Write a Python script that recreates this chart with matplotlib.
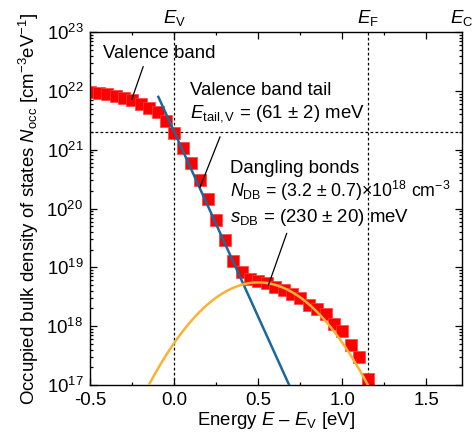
import numpy as np
import matplotlib
matplotlib.use("Agg")
import matplotlib.pyplot as plt
from matplotlib.ticker import MultipleLocator, LogLocator, NullFormatter, FormatStrFormatter
import matplotlib.transforms as mtransforms

plt.rcParams["font.family"] = ["Liberation Sans", "DejaVu Sans"]
plt.rcParams["mathtext.fontset"] = "custom"
plt.rcParams["mathtext.rm"] = "Liberation Sans"
plt.rcParams["mathtext.it"] = "Liberation Sans:italic"
plt.rcParams["mathtext.bf"] = "Liberation Sans:bold"
plt.rcParams["font.size"] = 13.4

# Measured occupied density of states (energy relative to valence band edge)
energy = [-0.50, -0.45, -0.40, -0.35, -0.30, -0.25, -0.20, -0.15, -0.10, -0.05,
          0.00, 0.05, 0.10, 0.15, 0.20, 0.25, 0.30, 0.35, 0.40, 0.45,
          0.50, 0.55, 0.60, 0.65, 0.70, 0.75, 0.80, 0.85, 0.90, 0.95,
          1.00, 1.05, 1.10, 1.15]
n_occ = [9.5e21, 9.1e21, 8.7e21, 8.1e21, 7.6e21, 6.9e21, 6.0e21, 5.2e21, 4.3e21, 3.1e21,
         1.95e21, 1.07e21, 5.9e20, 3.1e20, 1.45e20, 6.5e19, 2.9e19, 1.3e19, 8.3e18, 6.3e18,
         5.9e18, 5.5e18, 4.7e18, 4.2e18, 3.5e18, 3.0e18, 2.3e18, 1.95e18, 1.6e18, 1.1e18,
         8.3e17, 4.7e17, 3.0e17, 1.25e17]

# Exponential band-tail line (as plotted) and Gaussian dangling-bond distribution
n_tail0 = 2e21        # cm^-3 eV^-1 at E_V
e_tail_line = 0.069   # eV, slope of the drawn tail line
n_db = 3.2e18         # cm^-3
s_db = 0.230          # eV
e_db = 0.50           # eV

# Characteristic energies
e_v = 0.0
e_f = 1.15
e_c = 1.71

fig = plt.figure(figsize=(4.74, 4.40), dpi=100)
ax = fig.add_axes([0.1905, 0.125, 0.7835, 0.802])

ax.set_xlim(-0.5, e_c)
ax.set_ylim(1e17, 1e23)
ax.set_yscale("log")

dash = dict(color="black", lw=0.9, ls=(0, (2.2, 1.8)), zorder=1)
ax.axvline(e_v, **dash)
ax.axvline(e_f, **dash)
ax.axhline(n_tail0, **dash)

ax.plot(energy, n_occ, ls="none", marker="s", ms=8.4, color="#ff0000",
        mec="#ff4040", mew=0.5, zorder=2)

e_line = np.linspace(-0.095, 0.8, 200)
ax.plot(e_line, n_tail0 * np.exp(-e_line / e_tail_line), color="#19699b", lw=1.8, zorder=3)

e_gauss = np.linspace(-0.5, 1.71, 400)
gauss = n_db / (np.sqrt(2 * np.pi) * s_db) * np.exp(-(e_gauss - e_db) ** 2 / (2 * s_db ** 2))
ax.plot(e_gauss, gauss, color="#f9b233", lw=1.8, zorder=3)

# Ticks
ax.xaxis.set_major_locator(MultipleLocator(0.5))
ax.xaxis.set_minor_locator(MultipleLocator(0.25))
ax.yaxis.set_major_locator(LogLocator(base=10, numticks=10))
ax.yaxis.set_minor_locator(LogLocator(base=10, subs=np.arange(2, 10), numticks=20))
ax.yaxis.set_minor_formatter(NullFormatter())
ax.xaxis.set_major_formatter(FormatStrFormatter("%.1f"))
ax.tick_params(which="both", direction="in", top=True, right=True, width=0.9)
ax.tick_params(which="major", length=5, pad=5)
ax.tick_params(which="minor", length=2.5)
for sp in ax.spines.values():
    sp.set_linewidth(1.0)

ax.set_xlabel(r"Energy $E$ – $E_\mathrm{V}$ [eV]", labelpad=1)
ax.set_ylabel(r"Occupied bulk density of states $N_\mathrm{occ}$ [cm$^{-3}$eV$^{-1}$]",
              labelpad=4)

# Band-edge and Fermi-level labels above the frame
trans = mtransforms.blended_transform_factory(ax.transData, ax.transAxes)
for xe, lab in [(e_v, r"$E_\mathrm{V}$"), (e_f, r"$E_\mathrm{F}$"), (e_c, r"$E_\mathrm{C}$")]:
    ax.text(xe, 1.012, lab, transform=trans, ha="center", va="bottom", clip_on=False)

# Annotations
line_kw = dict(arrowprops=dict(arrowstyle="-", color="black", lw=0.9, shrinkA=0, shrinkB=0))
ax.text(-0.424, 3.6e22, "Valence band", ha="left", va="baseline")
ax.annotate("", xy=(-0.254, 7.1e21), xytext=(-0.185, 2.6e22), **line_kw)

ax.text(0.093, 8.5e21, "Valence band tail", ha="left", va="baseline")
ax.text(0.093, 3.5e21, r"$E_\mathrm{tail,V}$ = (61 ± 2) meV", ha="left", va="baseline")
ax.annotate("", xy=(0.153, 2.3e20), xytext=(0.272, 1.66e21), **line_kw)

ax.text(0.333, 4.1e20, "Dangling bonds", ha="left", va="baseline")
ax.text(0.333, 1.6e20, r"$N_\mathrm{DB}$ = (3.2 ± 0.7)×10$^{18}$ cm$^{-3}$", ha="left",
        va="baseline", fontsize=12.8)
ax.text(0.333, 5.9e19, r"$s_\mathrm{DB}$ = (230 ± 20) meV", ha="left", va="baseline")
ax.annotate("", xy=(0.56, 5.0e18), xytext=(0.669, 3.8e19), **line_kw)

fig.savefig("out.png", dpi=100)
